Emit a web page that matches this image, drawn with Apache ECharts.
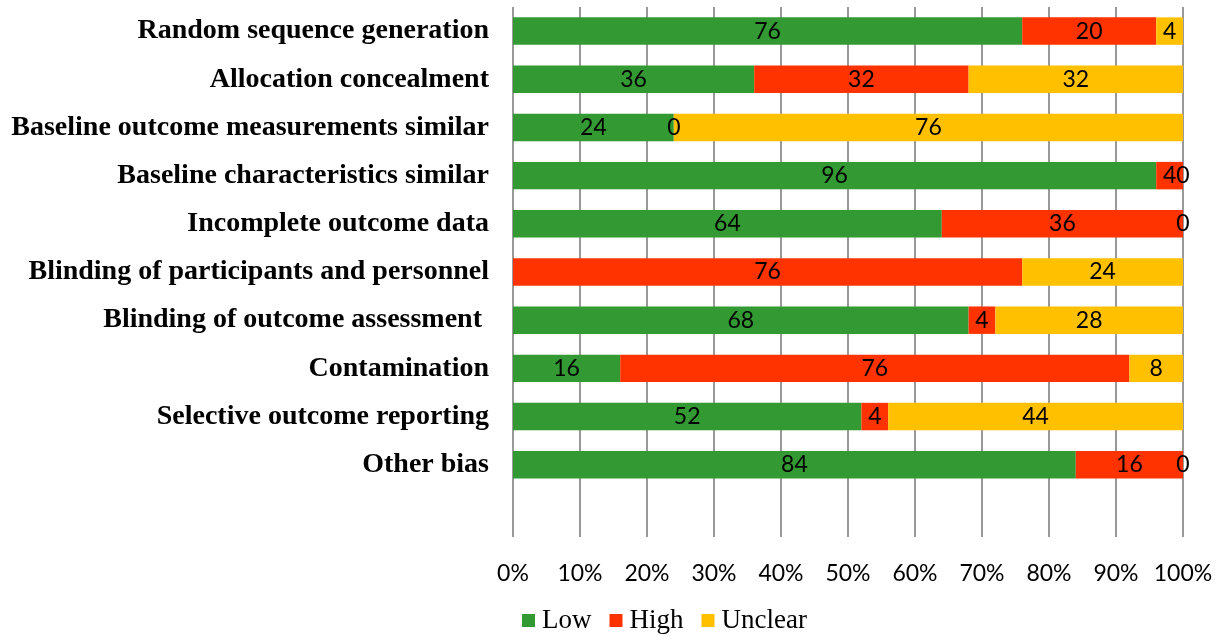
<!DOCTYPE html>
<html>
<head>
<meta charset="utf-8">
<script src="https://cdn.jsdelivr.net/npm/echarts@6/dist/echarts.min.js"></script>
<style>html,body{margin:0;padding:0;background:#fff}#c{width:1223px;height:640px}</style>
</head>
<body>
<div id="c"></div>
<script>
var categories = [
  'Random sequence generation',
  'Allocation concealment',
  'Baseline outcome measurements similar',
  'Baseline characteristics similar',
  'Incomplete outcome data',
  'Blinding of participants and personnel',
  'Blinding of outcome assessment ',
  'Contamination',
  'Selective outcome reporting',
  'Other bias',
  ''
];
var lowValues     = [76, 36, 24, 96, 64, null, 68, 16, 52, 84, null];
var highValues    = [20, 32, 0, 4, 36, 76, 4, 76, 4, 16, null];
var unclearValues = [4, 32, 76, 0, 0, 24, 28, 8, 44, 0, null];
var tickLabels = ['0%','10%','20%','30%','40%','50%','60%','70%','80%','90%','100%'];

var chart = echarts.init(document.getElementById('c'));
function mk(name, data, color) {
  return {
    name: name, type: 'bar', stack: 'total', data: data,
    barCategoryGap: '43%',
    itemStyle: { color: color },
    label: {
      show: true, position: 'inside', color: '#000',
      fontFamily: 'Lato', fontSize: 23,
      formatter: function (p) { return p.value == null ? '' : String(p.value); }
    },
    emphasis: { disabled: true }
  };
}
chart.setOption({
  animation: false,
  grid: { left: 513, right: 40, top: 7, bottom: 103, containLabel: false },
  legend: {
    bottom: 1, left: 517,
    itemWidth: 13, itemHeight: 13, itemGap: 18,
    icon: 'rect',
    textStyle: { fontFamily: 'Liberation Serif', fontSize: 27, color: '#000', padding: [0, 0, 0, 2] },
    data: ['Low', 'High', 'Unclear']
  },
  xAxis: {
    type: 'value', min: 0, max: 100, interval: 10,
    axisLine: { show: false }, axisTick: { show: false },
    splitLine: { show: true, lineStyle: { color: '#999', width: 2 } },
    axisLabel: {
      margin: 25, color: '#000', fontFamily: 'Lato', fontSize: 23,
      formatter: function (v) { return tickLabels[Math.round(v / 10)]; }
    }
  },
  yAxis: {
    type: 'category', inverse: true, data: categories,
    axisLine: { show: false }, axisTick: { show: false },
    axisLabel: {
      margin: 24, color: '#000', fontFamily: 'Liberation Serif',
      fontWeight: 'bold', fontSize: 28
    }
  },
  series: [
    mk('Low', lowValues, '#339933'),
    mk('High', highValues, '#FF3300'),
    mk('Unclear', unclearValues, '#FFC000')
  ]
});
</script>
</body>
</html>
